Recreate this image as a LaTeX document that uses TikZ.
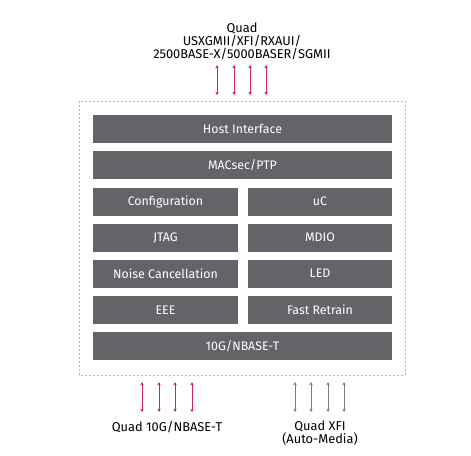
\documentclass[tikz,border=0pt]{standalone}
\usepackage{fontspec}
\setmainfont{Fira Sans}
\usetikzlibrary{arrows.meta}

\definecolor{blockgray}{RGB}{99,100,104}
\definecolor{linkpink}{RGB}{200,35,95}
\definecolor{linkgray}{RGB}{125,125,125}
\definecolor{framegray}{RGB}{185,185,185}

\tikzset{every picture/.style={line width=0.75pt}}
\tikzset{
  blockfull/.style={fill=blockgray, text=white, inner sep=0pt, minimum width=224.25pt, minimum height=21pt, font=\fontsize{9.3}{10}\selectfont},
  blockhalf/.style={blockfull, minimum width=108.5pt},
  pinklink/.style={draw=linkpink, line width=0.75pt, {Stealth[length=2.5pt,width=2.5pt]}-{Stealth[length=2.5pt,width=2.5pt]}},
  graylink/.style={pinklink, draw=linkgray},
  portlabel/.style={inner sep=0pt, align=center, font=\fontsize{9.6}{9.75}\selectfont},
}

\begin{document}
\begin{tikzpicture}[x=0.75pt,y=0.75pt,yscale=-1,xscale=1]
\path[use as bounding box] (0,0) rectangle (471,455);

%Dashed frame
\draw [draw=framegray, dash pattern=on 1.5pt off 1.5pt] (79,101) rectangle (405,375) ;

% Blocks
\node [blockfull] (host) at (242.5,129) {Host Interface};
\node [blockfull] (macsec) at (242.5,165) {MACsec/PTP};
\node [blockhalf] (config) at (165.5,201.5) {Configuration};
\node [blockhalf] (uc) at (320,201.5) {uC};
\node [blockhalf] (jtag) at (165.5,237.5) {JTAG};
\node [blockhalf] (mdio) at (320,237.5) {MDIO};
\node [blockhalf] (noise) at (165.5,273.5) {Noise Cancellation};
\node [blockhalf] (led) at (320,273.5) {LED};
\node [blockhalf] (eee) at (165.5,310) {EEE};
\node [blockhalf] (retrain) at (320,310) {Fast Retrain};
\node [blockfull] (phy) at (242.5,346) {10G/NBASE-T};

% Text Node
\node [portlabel] (host label) at (242,41.5) {Quad\\USXGMII/XFI/RXAUI/\\2500BASE-X/5000BASER/SGMII};
% Text Node
\node [portlabel] (copper label) at (167,427) {Quad 10G/NBASE-T};
% Text Node
\node [portlabel] (xfi label) at (320,433.5) {Quad XFI\\(Auto-Media)};

% Host side links
\foreach \i/\x in {1/217,2/234,3/250,4/266} {
  \coordinate (host top \i) at (\x,65);
  \coordinate (host bot \i) at (\x,95);
  \draw [pinklink] (host top \i) -- (host bot \i) ;
}
% Line side links
\foreach \i/\x in {1/142,2/159,3/175,4/192} {
  \coordinate (copper top \i) at (\x,382);
  \coordinate (copper bot \i) at (\x,412);
  \draw [pinklink] (copper top \i) -- (copper bot \i) ;
}
\foreach \i/\x in {1/295,2/311,3/328,4/344} {
  \coordinate (xfi top \i) at (\x,382);
  \coordinate (xfi bot \i) at (\x,412);
  \draw [graylink] (xfi top \i) -- (xfi bot \i) ;
}

\end{tikzpicture}
\end{document}
